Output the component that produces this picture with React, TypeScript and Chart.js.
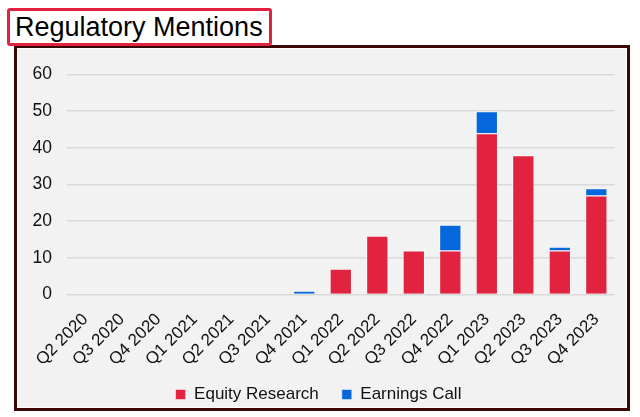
import React, { useEffect, useRef } from "react";
import { Chart, registerables } from "chart.js";

Chart.register(...registerables);

const quarters = [
  "Q2 2020", "Q3 2020", "Q4 2020", "Q1 2021", "Q2 2021", "Q3 2021", "Q4 2021",
  "Q1 2022", "Q2 2022", "Q3 2022", "Q4 2022", "Q1 2023", "Q2 2023", "Q3 2023", "Q4 2023",
];
const equityResearch = [0, 0, 0, 0, 0, 0, 0, 7, 16, 12, 12, 44, 38, 12, 27];
const earningsCall = [0, 0, 0, 0, 0, 0, 1, 0, 0, 0, 7, 6, 0, 1, 2];
const yTicks = [0, 10, 20, 30, 40, 50, 60];

const FONT = "'Liberation Sans', Arial, sans-serif";
const RED = "#e1233f";
const BLUE = "#0567dc";

export default function App() {
  const canvasRef = useRef<HTMLCanvasElement | null>(null);

  useEffect(() => {
    const canvas = canvasRef.current;
    if (!canvas) return;
    const edge = { top: 1, left: 1, right: 1, bottom: 0 };
    const chart = new Chart(canvas, {
      type: "bar",
      data: {
        labels: quarters,
        datasets: [
          {
            label: "Equity Research",
            data: equityResearch,
            backgroundColor: RED,
            borderColor: "rgba(255,255,255,0.65)",
            borderWidth: edge,
            borderSkipped: false,
            categoryPercentage: 1,
            barPercentage: 0.61,
          },
          {
            label: "Earnings Call",
            data: earningsCall,
            backgroundColor: BLUE,
            borderColor: "rgba(255,255,255,0.65)",
            borderWidth: edge,
            borderSkipped: false,
            categoryPercentage: 1,
            barPercentage: 0.61,
          },
        ],
      },
      options: {
        animation: false,
        responsive: false,
        maintainAspectRatio: false,
        layout: { padding: { top: 22, right: 7, left: 0, bottom: 2 } },
        plugins: {
          tooltip: { enabled: false },
          legend: {
            position: "bottom",
            labels: {
              font: { family: FONT, size: 17 },
              color: "#111",
              boxWidth: 10,
              boxHeight: 10,
              padding: 23,
            },
          },
        },
        scales: {
          x: {
            stacked: true,
            grid: { display: false, drawTicks: false },
            border: { display: false },
            afterFit: (scale: any) => {
              scale.height = scale.height - 22;
            },
            ticks: {
              font: { family: FONT, size: 17 },
              color: "#111",
              maxRotation: 45,
              minRotation: 45,
              padding: 15,
              autoSkip: false,
            },
          },
          y: {
            stacked: true,
            min: 0,
            max: 60,
            grid: { color: "#d9d9d9", lineWidth: 1.5, drawTicks: false },
            border: { display: false },
            afterFit: (scale: any) => {
              scale.width = 49;
            },
            afterBuildTicks: (scale: any) => {
              scale.ticks = yTicks.map((v) => ({ value: v }));
            },
            ticks: {
              font: { family: FONT, size: 17.5 },
              color: "#111",
              padding: 15,
            },
          },
        },
      },
    });
    return () => chart.destroy();
  }, []);

  return (
    <div
      style={{
        position: "absolute",
        left: 0,
        top: 0,
        width: 640,
        height: 417,
        background: "#ffffff",
        fontFamily: FONT,
      }}
    >
      <div
        style={{
          position: "absolute",
          left: 14,
          top: 45,
          width: 610,
          height: 360,
          border: "3px solid #3b0808",
          background: "#f2f2f2",
          boxShadow: "inset 0 0 0 1px #ffffff",
        }}
      />
      <canvas
        ref={canvasRef}
        width={608}
        height={366}
        style={{ position: "absolute", left: 18, top: 49, width: 608, height: 366 }}
      />
      <div
        style={{
          position: "absolute",
          left: 7,
          top: 8,
          width: 254,
          height: 32,
          border: "3px solid #e1233f",
          borderRadius: 3,
          background: "#ffffff",
          color: "#000",
          fontSize: 27,
          lineHeight: "32px",
          paddingLeft: 5,
          boxSizing: "content-box",
          whiteSpace: "nowrap",
        }}
      >
        Regulatory Mentions
      </div>
    </div>
  );
}
